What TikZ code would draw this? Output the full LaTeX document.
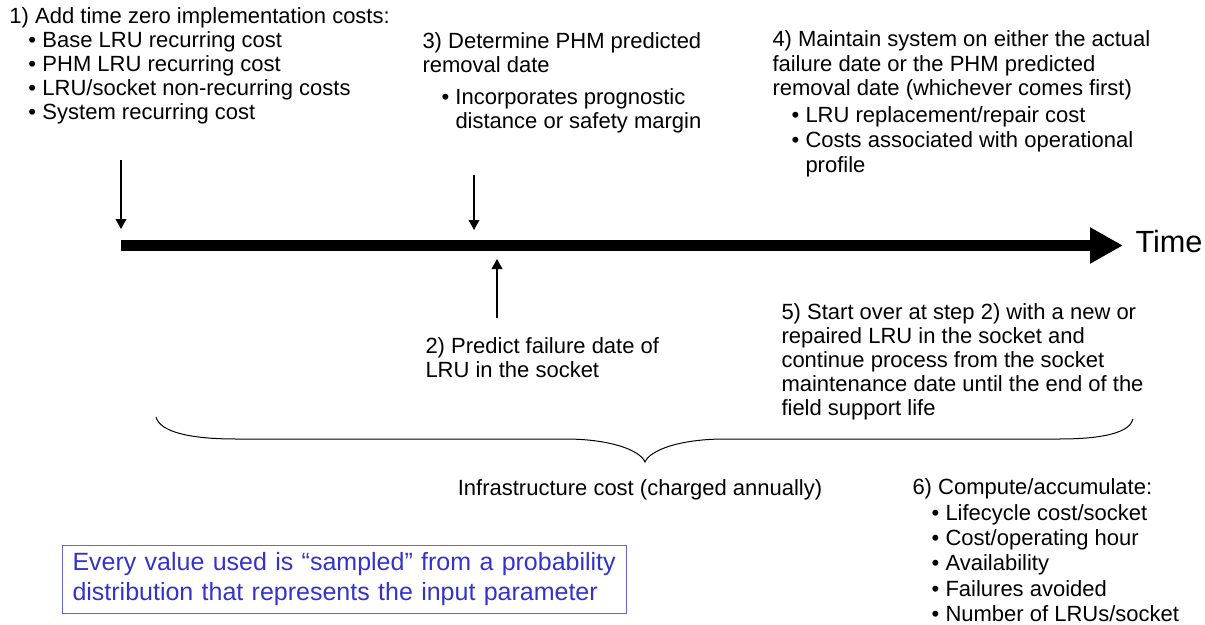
\documentclass[tikz,border=0pt]{standalone}
\usepackage{fontspec}
\setmainfont{Liberation Sans}
\usetikzlibrary{arrows.meta}

\definecolor{boxblue}{RGB}{102,102,221}
\definecolor{noteblue}{RGB}{51,51,204}

\tikzset{every picture/.style={line width=0.75pt}}
\tikzset{
  txt/.style={anchor=base west, inner sep=0pt, align=left, font=\fontsize{16.5}{18}\selectfont},
  marker/.style={-{Triangle[width=8pt,length=7.5pt]}, line width=1.1pt},
}
\newcommand{\bul}{\hspace*{14.25pt}\makebox[10.5pt][l]{\textbullet}}
\newcommand{\hang}{\hspace*{24.75pt}}

\begin{document}
\begin{tikzpicture}[x=0.75pt,y=0.75pt,yscale=-1,xscale=1]
\useasboundingbox (0,0) rectangle (1205,624);

%Time axis
\coordinate (t0) at (121,245.5);
\coordinate (tend) at (1123,245.5);
\draw [line width=8.25pt, -{Triangle[width=25.5pt,length=24.75pt]}] (t0) -- (tend) ;

%Straight Lines
\coordinate (a1) at (121,160);
\coordinate (a1tip) at (121,229);
\draw [marker] (a1) -- (a1tip) ;

%Straight Lines
\coordinate (a3) at (474,175);
\coordinate (a3tip) at (474,230);
\draw [marker] (a3) -- (a3tip) ;

%Straight Lines
\coordinate (a2) at (497,318);
\coordinate (a2tip) at (497,259);
\draw [marker] (a2) -- (a2tip) ;

%Curve Lines
\draw (156,417) .. controls (160,432) and (190,439) .. (236,439) -- (565,439) .. controls (610,439) and (640,450) .. (645,462) .. controls (650,450) and (680,439) .. (725,439) -- (1059,439) .. controls (1105,439) and (1130,432) .. (1133,419) ;

% Text Node (anchored on the last line)
\draw (9,120) node (addcost) [txt] {1) Add time zero implementation costs:\\
\bul Base LRU recurring cost\\
\bul PHM LRU recurring cost\\
\bul LRU/socket non-recurring costs\\
\bul System recurring cost};
% Text Node
\draw (422,129) node (predrem) [txt] {3) Determine PHM predicted\\
removal date\\[6pt]
\bul Incorporates prognostic\\
\hang distance or safety margin};
% Text Node
\draw (772,172) node (maint) [txt] {4) Maintain system on either the actual\\
failure date or the PHM predicted\\
removal date (whichever comes first)\\[2.25pt]
\bul LRU replacement/repair cost\\[0.75pt]
\bul Costs associated with operational\\[0.75pt]
\hang profile};
% Text Node
\draw (1135,252) node (timelbl) [txt, font=\fontsize{23}{28}\selectfont] {Time};
% Text Node
\draw (425,377) node (predfail) [txt] {2) Predict failure date of\\
LRU in the socket};
% Text Node
\draw (781,415) node (startover) [txt] {5) Start over at step 2) with a new or\\
repaired LRU in the socket and\\
continue process from the socket\\
maintenance date until the end of the\\
field support life};
% Text Node
\draw (640,495) node (infra) [txt, anchor=base] {Infrastructure cost (charged annually)};
% Text Node
\draw (912,621.5) node (compute) [txt, font=\fontsize{16.5}{19}\selectfont] {6) Compute/accumulate:\\
\bul Lifecycle cost/socket\\
\bul Cost/operating hour\\
\bul Availability\\
\bul Failures avoided\\
\bul Number of LRUs/socket};
% Text Node
\draw (62,545) node (sampled) [draw=boxblue, text=noteblue, anchor=north west, inner xsep=7.5pt, inner ysep=0pt, minimum height=51pt, text width=408pt, align=left, font=\fontsize{18.75}{22.5}\selectfont] {Every value used is “sampled” from a probability\\
distribution that represents the input parameter};

\end{tikzpicture}
\end{document}
